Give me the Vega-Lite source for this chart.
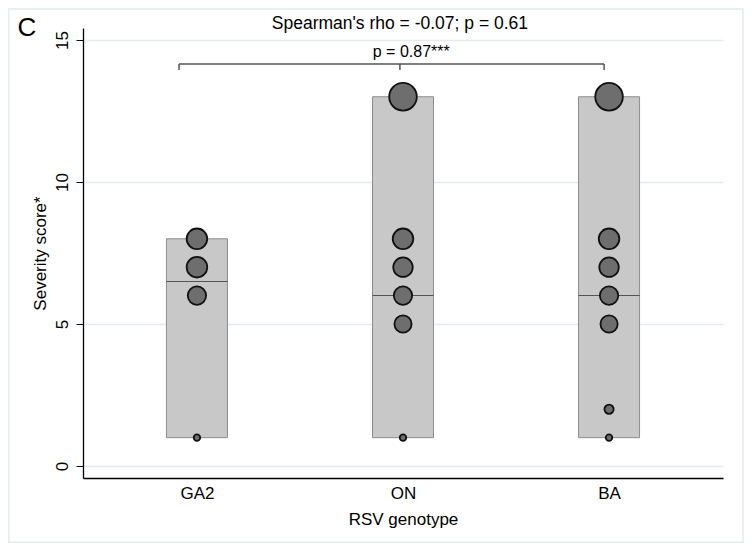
{
  "$schema": "https://vega.github.io/schema/vega-lite/v6.json",
  "width": 640,
  "height": 450,
  "autosize": {"type": "none"},
  "padding": {"left": 83, "top": 28, "right": 30, "bottom": 72},
  "background": "white",
  "config": {"view": {"stroke": null}, "font": "Liberation Sans"},
  "datasets": {
    "boxes": [
      {"genotype": "GA2", "low": 1, "median": 6.5, "high": 8},
      {"genotype": "ON", "low": 1, "median": 6, "high": 13},
      {"genotype": "BA", "low": 1, "median": 6, "high": 13}
    ],
    "points": [
      {"genotype": "GA2", "score": 8, "n": 10},
      {"genotype": "GA2", "score": 7, "n": 10},
      {"genotype": "GA2", "score": 6, "n": 8},
      {"genotype": "GA2", "score": 1, "n": 1},
      {"genotype": "ON", "score": 13, "n": 18},
      {"genotype": "ON", "score": 8, "n": 10},
      {"genotype": "ON", "score": 7, "n": 9},
      {"genotype": "ON", "score": 6, "n": 8},
      {"genotype": "ON", "score": 5, "n": 7},
      {"genotype": "ON", "score": 1, "n": 1},
      {"genotype": "BA", "score": 13, "n": 18},
      {"genotype": "BA", "score": 8, "n": 10},
      {"genotype": "BA", "score": 7, "n": 9},
      {"genotype": "BA", "score": 6, "n": 8},
      {"genotype": "BA", "score": 5, "n": 7},
      {"genotype": "BA", "score": 2, "n": 2},
      {"genotype": "BA", "score": 1, "n": 1}
    ],
    "bracket": [
      {"x": 0.913, "x2": 2.976, "y": 14.15, "y2": 14.15},
      {"x": 0.913, "x2": 0.913, "y": 13.94, "y2": 14.15},
      {"x": 1.985, "x2": 1.985, "y": 13.94, "y2": 14.15},
      {"x": 2.976, "x2": 2.976, "y": 13.94, "y2": 14.15}
    ],
    "frame": [{"x": 0.087, "x2": 3.65, "y": 16.09, "y2": -2.68}],
    "panel": [{"label": "C", "x": 0.175, "y": 15.42}],
    "spearman": [{"label": "Spearman's rho = -0.07; p = 0.61", "x": 1.985, "y": 15.57}],
    "pvalue": [{"label": "p = 0.87***", "x": 2.04, "y": 14.58}]
  },
  "resolve": {"scale": {"x": "independent"}},
  "layer": [
    {
      "layer": [
        {
          "data": {"name": "boxes"},
          "mark": {"type": "bar", "width": 61, "fill": "#c8c8c8", "stroke": "#8c8c8c", "strokeWidth": 1},
          "encoding": {
            "x": {
              "field": "genotype", "type": "nominal",
              "scale": {"type": "point", "domain": ["GA2", "ON", "BA"], "padding": 0.553},
              "axis": {
                "title": "RSV genotype", "ticks": false, "labelAngle": 0, "labelPadding": 7,
                "labelFontSize": 17, "labelColor": "#000", "titleFontSize": 17, "titleFontWeight": "normal",
                "titleColor": "#000", "titlePadding": 10, "domainColor": "#000", "domainWidth": 1.3, "grid": false
              }
            },
            "y": {
              "field": "low", "type": "quantitative",
              "scale": {"domain": [-0.42, 15.42], "nice": false, "zero": false},
              "axis": {
                "title": "Severity score*", "values": [0, 5, 10, 15], "tickSize": 7, "tickColor": "#000",
                "labelAngle": 270, "labelFontSize": 17, "labelColor": "#000", "labelPadding": 5,
                "titleFontSize": 17, "titleFontWeight": "normal", "titleColor": "#000", "titlePadding": 4,
                "domainColor": "#000", "domainWidth": 1.3, "gridColor": "#e3ecee", "gridWidth": 1.5
              }
            },
            "y2": {"field": "high"}
          }
        },
        {
          "data": {"name": "boxes"},
          "mark": {"type": "tick", "orient": "horizontal", "size": 61, "thickness": 1, "color": "#222"},
          "encoding": {
            "x": {"field": "genotype", "type": "nominal"},
            "y": {"field": "median", "type": "quantitative"}
          }
        },
        {
          "data": {"name": "points"},
          "mark": {"type": "circle", "fill": "#6e6e6e", "stroke": "#111", "strokeWidth": 1.8, "opacity": 1},
          "encoding": {
            "x": {"field": "genotype", "type": "nominal"},
            "y": {"field": "score", "type": "quantitative"},
            "size": {"field": "n", "type": "quantitative", "scale": {"domain": [0, 18], "range": [0, 760]}, "legend": null}
          }
        }
      ]
    },
    {
      "layer": [
        {
          "data": {"name": "frame"},
          "mark": {"type": "rect", "fill": null, "stroke": "#e4ecee", "strokeWidth": 1.5},
          "encoding": {
            "x": {"field": "x", "type": "quantitative", "scale": {"domain": [0.447, 3.553], "nice": false, "zero": false}, "axis": null},
            "x2": {"field": "x2"},
            "y": {"field": "y", "type": "quantitative"},
            "y2": {"field": "y2"}
          }
        },
        {
          "data": {"name": "bracket"},
          "mark": {"type": "rule", "color": "#555", "strokeWidth": 1.5},
          "encoding": {
            "x": {"field": "x", "type": "quantitative"},
            "x2": {"field": "x2"},
            "y": {"field": "y", "type": "quantitative"},
            "y2": {"field": "y2"}
          }
        },
        {
          "data": {"name": "spearman"},
          "mark": {"type": "text", "fontSize": 17.5, "color": "#000", "baseline": "middle", "align": "center"},
          "encoding": {
            "x": {"field": "x", "type": "quantitative"},
            "y": {"field": "y", "type": "quantitative"},
            "text": {"field": "label"}
          }
        },
        {
          "data": {"name": "pvalue"},
          "mark": {"type": "text", "fontSize": 16, "color": "#000", "baseline": "middle", "align": "center"},
          "encoding": {
            "x": {"field": "x", "type": "quantitative"},
            "y": {"field": "y", "type": "quantitative"},
            "text": {"field": "label"}
          }
        },
        {
          "data": {"name": "panel"},
          "mark": {"type": "text", "fontSize": 26, "color": "#000", "baseline": "middle", "align": "center"},
          "encoding": {
            "x": {"field": "x", "type": "quantitative"},
            "y": {"field": "y", "type": "quantitative"},
            "text": {"field": "label"}
          }
        }
      ]
    }
  ]
}
